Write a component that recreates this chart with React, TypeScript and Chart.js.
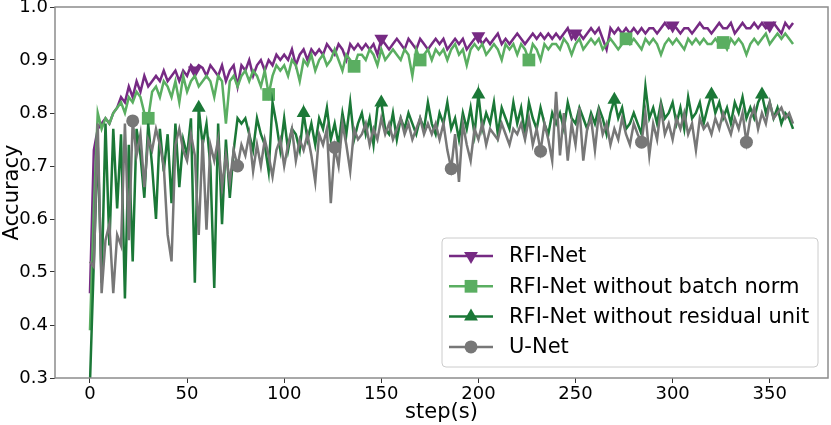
import React, { useRef, useEffect } from 'react';
import { Chart, registerables } from 'chart.js';

Chart.register(...registerables);

const FONT = "'DejaVu Sans', sans-serif";

// training steps, sampled every second step
const steps: number[] = Array.from({ length: 182 }, (_, i) => i * 2);

const xTicks = [0, 50, 100, 150, 200, 250, 300, 350];
const yTicks = [0.3, 0.4, 0.5, 0.6, 0.7, 0.8, 0.9, 1.0];

const rfiNet = [
  0.46, 0.73, 0.77, 0.78, 0.79, 0.78, 0.80, 0.81, 0.83, 0.82,
  0.85, 0.83, 0.86, 0.84, 0.87, 0.85, 0.86, 0.87, 0.86, 0.88,
  0.86, 0.87, 0.88, 0.86, 0.88, 0.87, 0.89, 0.88, 0.89, 0.885,
  0.87, 0.89, 0.88, 0.87, 0.89, 0.86, 0.88, 0.89, 0.85, 0.89,
  0.88, 0.90, 0.87, 0.89, 0.90, 0.88, 0.90, 0.89, 0.91, 0.90,
  0.91, 0.90, 0.92, 0.89, 0.91, 0.92, 0.90, 0.92, 0.91, 0.92,
  0.91, 0.93, 0.92, 0.91, 0.93, 0.92, 0.90, 0.93, 0.92, 0.93,
  0.92, 0.93, 0.92, 0.93, 0.91, 0.94, 0.93, 0.92, 0.93, 0.94,
  0.93, 0.92, 0.94, 0.93, 0.92, 0.94, 0.93, 0.92, 0.93, 0.94,
  0.93, 0.94, 0.92, 0.93, 0.94, 0.93, 0.94, 0.92, 0.93, 0.94,
  0.945, 0.93, 0.94, 0.93, 0.94, 0.95, 0.93, 0.94, 0.93, 0.94,
  0.95, 0.94, 0.93, 0.94, 0.95, 0.94, 0.95, 0.94, 0.95, 0.94,
  0.95, 0.94, 0.95, 0.96, 0.94, 0.95, 0.95, 0.94, 0.95, 0.96,
  0.95, 0.96, 0.94, 0.92, 0.96, 0.95, 0.96, 0.95, 0.96, 0.95,
  0.96, 0.95, 0.96, 0.95, 0.96, 0.96, 0.95, 0.96, 0.97, 0.96,
  0.965, 0.96, 0.95, 0.96, 0.96, 0.95, 0.96, 0.97, 0.96, 0.96,
  0.95, 0.96, 0.97, 0.96, 0.96, 0.97, 0.95, 0.96, 0.97, 0.96,
  0.96, 0.97, 0.96, 0.97, 0.96, 0.965, 0.97, 0.96, 0.95, 0.97,
  0.96, 0.97,
];

const noBatchNorm = [
  0.39, 0.62, 0.80, 0.77, 0.79, 0.78, 0.80, 0.81, 0.82, 0.80,
  0.83, 0.82, 0.84, 0.83, 0.80, 0.79, 0.84, 0.85, 0.83, 0.86,
  0.85, 0.83, 0.86, 0.82, 0.87, 0.84, 0.86, 0.87, 0.85, 0.86,
  0.87, 0.86, 0.83, 0.87, 0.86, 0.78, 0.86, 0.87, 0.85, 0.87,
  0.88, 0.86, 0.88, 0.87, 0.85, 0.88, 0.835, 0.87, 0.89, 0.88,
  0.89, 0.87, 0.90, 0.89, 0.86, 0.90, 0.89, 0.91, 0.88, 0.90,
  0.91, 0.89, 0.90, 0.92, 0.90, 0.88, 0.91, 0.90, 0.888, 0.91,
  0.91, 0.90, 0.92, 0.91, 0.89, 0.92, 0.90, 0.91, 0.92, 0.91,
  0.90, 0.92, 0.91, 0.87, 0.92, 0.90, 0.91, 0.92, 0.90, 0.92,
  0.91, 0.92, 0.90, 0.92, 0.93, 0.91, 0.92, 0.89, 0.92, 0.93,
  0.92, 0.93, 0.91, 0.92, 0.93, 0.92, 0.90, 0.93, 0.92, 0.93,
  0.91, 0.93, 0.92, 0.90, 0.93, 0.92, 0.90, 0.93, 0.92, 0.93,
  0.93, 0.92, 0.94, 0.93, 0.91, 0.93, 0.94, 0.92, 0.93, 0.94,
  0.93, 0.94, 0.92, 0.93, 0.94, 0.93, 0.92, 0.93, 0.94, 0.93,
  0.94, 0.93, 0.92, 0.94, 0.93, 0.94, 0.93, 0.91, 0.93, 0.94,
  0.93, 0.94, 0.93, 0.92, 0.94, 0.93, 0.94, 0.93, 0.94, 0.93,
  0.93, 0.94, 0.93, 0.933, 0.92, 0.94, 0.93, 0.94, 0.93, 0.91,
  0.93, 0.94, 0.93, 0.94, 0.95, 0.93, 0.94, 0.95, 0.94, 0.95,
  0.94, 0.93,
];

const noResidual = [
  0.29, 0.52, 0.74, 0.48, 0.78, 0.55, 0.77, 0.62, 0.76, 0.45,
  0.74, 0.52, 0.77, 0.72, 0.64, 0.78, 0.70, 0.60, 0.77, 0.69,
  0.76, 0.63, 0.78, 0.66, 0.75, 0.72, 0.79, 0.48, 0.81, 0.74,
  0.78, 0.70, 0.47, 0.78, 0.59, 0.75, 0.64, 0.73, 0.79, 0.78,
  0.79, 0.76, 0.73, 0.79, 0.76, 0.74, 0.69, 0.82, 0.78, 0.73,
  0.79, 0.73, 0.77, 0.76, 0.73, 0.80, 0.75, 0.78, 0.74, 0.79,
  0.77, 0.81, 0.75, 0.78, 0.74, 0.80, 0.76, 0.82, 0.75, 0.78,
  0.80, 0.76, 0.79, 0.74, 0.81, 0.82, 0.77, 0.76, 0.80, 0.75,
  0.79, 0.77, 0.80, 0.78, 0.76, 0.79, 0.77, 0.82, 0.78, 0.76,
  0.80, 0.78, 0.82, 0.77, 0.79, 0.75, 0.80, 0.77, 0.81, 0.76,
  0.835, 0.77, 0.80, 0.78, 0.82, 0.76, 0.81, 0.79, 0.77, 0.82,
  0.78, 0.81, 0.76, 0.82, 0.79, 0.77, 0.81, 0.78, 0.76, 0.80,
  0.78, 0.80, 0.77, 0.82, 0.79, 0.78, 0.81, 0.79, 0.77, 0.80,
  0.78, 0.81, 0.79, 0.76, 0.80, 0.825, 0.79, 0.81, 0.77, 0.78,
  0.80, 0.78, 0.76, 0.85, 0.79, 0.81, 0.78, 0.82, 0.79, 0.80,
  0.82, 0.78, 0.81, 0.77, 0.83, 0.79, 0.80, 0.82, 0.78, 0.81,
  0.835, 0.80, 0.82, 0.79, 0.81, 0.78, 0.82, 0.80, 0.83, 0.79,
  0.81, 0.79, 0.82, 0.835, 0.80, 0.82, 0.79, 0.81, 0.78, 0.80,
  0.79, 0.77,
];

const uNet = [
  0.52, 0.51, 0.78, 0.46, 0.56, 0.59, 0.46, 0.57, 0.55, 0.78,
  0.56, 0.785, 0.72, 0.76, 0.66, 0.75, 0.73, 0.77, 0.74, 0.70,
  0.57, 0.52, 0.74, 0.77, 0.73, 0.71, 0.76, 0.72, 0.57, 0.75,
  0.58, 0.74, 0.71, 0.75, 0.66, 0.72, 0.67, 0.73, 0.70, 0.74,
  0.72, 0.76, 0.69, 0.74, 0.70, 0.75, 0.72, 0.68, 0.73, 0.75,
  0.70, 0.74, 0.77, 0.71, 0.75, 0.73, 0.76, 0.72, 0.67, 0.76,
  0.74, 0.77, 0.63, 0.735, 0.70, 0.78, 0.74, 0.69, 0.77, 0.75,
  0.76, 0.78, 0.74, 0.77, 0.75, 0.79, 0.76, 0.78, 0.75, 0.77,
  0.79, 0.76, 0.78, 0.75, 0.77, 0.79, 0.76, 0.78, 0.76, 0.78,
  0.75, 0.78, 0.73, 0.695, 0.76, 0.67, 0.78, 0.74, 0.71, 0.77,
  0.75, 0.78, 0.74, 0.77, 0.76, 0.75, 0.78, 0.76, 0.74, 0.77,
  0.76, 0.78, 0.75, 0.79, 0.74, 0.77, 0.728, 0.78, 0.75, 0.71,
  0.84, 0.72, 0.80, 0.71, 0.78, 0.74, 0.81, 0.71, 0.77, 0.79,
  0.73, 0.80, 0.76, 0.78, 0.74, 0.77, 0.75, 0.79, 0.76, 0.74,
  0.78, 0.76, 0.745, 0.80, 0.72, 0.78, 0.75, 0.81, 0.76, 0.78,
  0.75, 0.79, 0.77, 0.80, 0.76, 0.78, 0.73, 0.79, 0.77, 0.78,
  0.76, 0.79, 0.77, 0.80, 0.78, 0.76, 0.79, 0.77, 0.80, 0.745,
  0.79, 0.81, 0.77, 0.80, 0.78, 0.82, 0.79, 0.80, 0.81, 0.79,
  0.80, 0.78,
];

// steps that carry a marker, per series
const rfiNetMarks = [54, 150, 200, 250, 300, 350];
const noBatchNormMarks = [30, 92, 136, 170, 226, 276, 326];
const noResidualMarks = [56, 110, 150, 200, 270, 320, 346];
const uNetMarks = [22, 76, 126, 186, 232, 284, 338];

const series = [
  { label: 'RFI-Net', values: rfiNet, marks: rfiNetMarks, color: '#762a83', style: 'triangle', rotation: 180, radius: 8, order: 4 },
  { label: 'RFI-Net without batch norm', values: noBatchNorm, marks: noBatchNormMarks, color: '#5aae61', style: 'rect', rotation: 0, radius: 9, order: 3 },
  { label: 'RFI-Net without residual unit', values: noResidual, marks: noResidualMarks, color: '#1b7837', style: 'triangle', rotation: 0, radius: 8, order: 2 },
  { label: 'U-Net', values: uNet, marks: uNetMarks, color: '#777777', style: 'circle', rotation: 0, radius: 6.5, order: 1 },
];

function drawMarker(ctx: CanvasRenderingContext2D, style: string, x: number, y: number, r: number, rotation: number) {
  ctx.beginPath();
  if (style === 'circle') {
    ctx.arc(x, y, r, 0, Math.PI * 2);
  } else if (style === 'rect') {
    const s = r * Math.SQRT1_2;
    ctx.rect(x - s, y - s, 2 * s, 2 * s);
  } else {
    const dir = rotation === 180 ? -1 : 1;
    const w = r * Math.sin(Math.PI / 3);
    ctx.moveTo(x, y - dir * r);
    ctx.lineTo(x - w, y + dir * r / 2);
    ctx.lineTo(x + w, y + dir * r / 2);
    ctx.closePath();
  }
  ctx.fill();
}

const framePlugin = {
  id: 'frame',
  afterDraw(chart: any) {
    const { ctx, chartArea } = chart;
    ctx.save();
    ctx.strokeStyle = '#8c8c8c';
    ctx.lineWidth = 1.5;
    ctx.strokeRect(chartArea.left, chartArea.top, chartArea.right - chartArea.left, chartArea.bottom - chartArea.top);
    ctx.restore();
  },
};

const legendPlugin = {
  id: 'boxLegend',
  afterDraw(chart: any) {
    const { ctx, chartArea } = chart;
    const w = 376;
    const h = 129;
    const x0 = chartArea.right - 10 - w;
    const y0 = chartArea.bottom - 11 - h;
    ctx.save();
    ctx.beginPath();
    const r = 4;
    ctx.moveTo(x0 + r, y0);
    ctx.arcTo(x0 + w, y0, x0 + w, y0 + h, r);
    ctx.arcTo(x0 + w, y0 + h, x0, y0 + h, r);
    ctx.arcTo(x0, y0 + h, x0, y0, r);
    ctx.arcTo(x0, y0, x0 + w, y0, r);
    ctx.closePath();
    ctx.fillStyle = 'rgba(255,255,255,0.85)';
    ctx.fill();
    ctx.strokeStyle = '#cccccc';
    ctx.lineWidth = 1;
    ctx.stroke();

    ctx.font = `21px ${FONT}`;
    ctx.textBaseline = 'middle';
    ctx.textAlign = 'left';
    series.forEach((s, i) => {
      const y = y0 + 18 + i * 30.3;
      ctx.strokeStyle = s.color;
      ctx.lineWidth = 2.5;
      ctx.beginPath();
      ctx.moveTo(x0 + 7, y);
      ctx.lineTo(x0 + 51, y);
      ctx.stroke();
      ctx.fillStyle = s.color;
      drawMarker(ctx, s.style, x0 + 29, y, s.radius, s.rotation);
      ctx.fillStyle = '#000000';
      ctx.fillText(s.label, x0 + 67, y + 1);
    });
    ctx.restore();
  },
};

const App: React.FC = () => {
  const canvasRef = useRef<HTMLCanvasElement>(null);

  useEffect(() => {
    document.body.style.margin = '0';
    if (!canvasRef.current) return;

    const datasets = series.map((s) => ({
      label: s.label,
      data: s.values.map((v, i) => ({ x: steps[i], y: v })),
      borderColor: s.color,
      backgroundColor: s.color,
      borderWidth: 2.5,
      tension: 0,
      order: s.order,
      pointStyle: s.style,
      rotation: s.rotation,
      pointRotation: s.rotation,
      pointBorderWidth: 0,
      pointBackgroundColor: s.color,
      pointRadius: (ctx: any) => (s.marks.includes(steps[ctx.dataIndex]) ? s.radius : 0),
      pointHoverRadius: 0,
    }));

    const chart = new Chart(canvasRef.current, {
      type: 'line',
      data: { datasets },
      options: {
        animation: false,
        responsive: false,
        devicePixelRatio: 1,
        layout: { padding: { top: 7, right: 3, left: 0, bottom: 0 } },
        plugins: { legend: { display: false }, tooltip: { enabled: false } },
        scales: {
          x: {
            type: 'linear',
            min: -18,
            max: 380,
            afterBuildTicks: (s: any) => { s.ticks = xTicks.map((value) => ({ value })); },
            afterFit: (s: any) => { s.height = 47; s.paddingLeft = 0; s.paddingRight = 0; },
            ticks: { color: '#000', font: { family: FONT, size: 18 }, padding: 1, maxRotation: 0 },
            grid: { drawOnChartArea: false, drawTicks: true, tickLength: 5, tickColor: '#333' },
            border: { display: false },
            title: { display: true, text: 'step(s)', color: '#000', font: { family: FONT, size: 21 }, padding: { top: 0, bottom: 0 } },
          },
          y: {
            type: 'linear',
            min: 0.3,
            max: 1.0,
            afterBuildTicks: (s: any) => { s.ticks = yTicks.map((value) => ({ value })); },
            afterFit: (s: any) => { s.width = 55; s.paddingTop = 0; s.paddingBottom = 0; },
            ticks: { color: '#000', font: { family: FONT, size: 18 }, padding: 2, callback: (v: any) => Number(v).toFixed(1) },
            grid: { drawOnChartArea: false, drawTicks: true, tickLength: 5, tickColor: '#333' },
            border: { display: false },
            title: { display: true, text: 'Accuracy', color: '#000', font: { family: FONT, size: 21 }, padding: { top: 0, bottom: 0 } },
          },
        },
      },
      plugins: [framePlugin, legendPlugin],
    } as any);

    return () => {
      chart.destroy();
    };
  }, []);

  return (
    <div style={{ width: 831, height: 425 }}>
      <canvas ref={canvasRef} width={831} height={425} />
    </div>
  );
};

export default App;
